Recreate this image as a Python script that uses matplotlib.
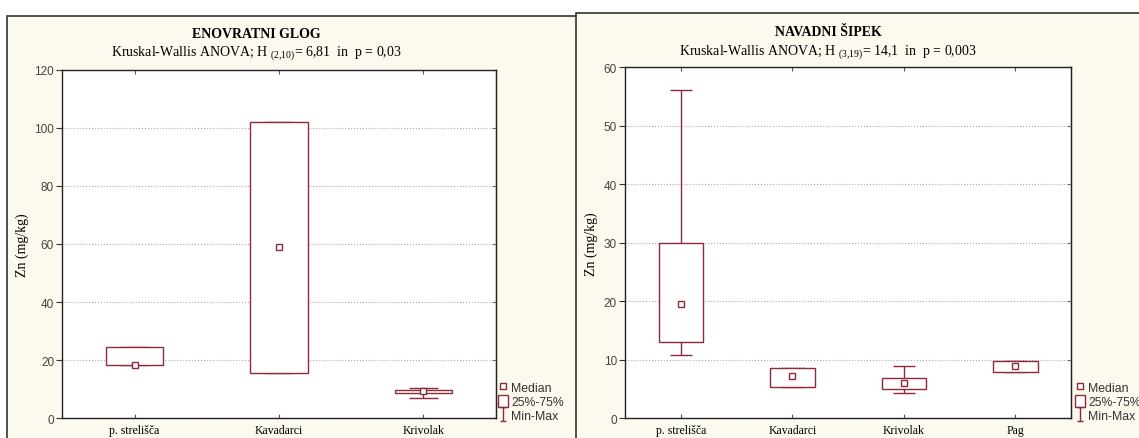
import numpy as np
import matplotlib
matplotlib.use('Agg')
import matplotlib.pyplot as plt
from matplotlib.patches import Rectangle, Patch
from matplotlib.lines import Line2D
from matplotlib.path import Path

# Colours.
RED = '#8c2a3a'
CREAM = '#fcf9ee'
FRAME = '#333333'

plt.rcParams['mathtext.fontset'] = 'custom'
plt.rcParams['mathtext.rm'] = 'Liberation Serif'
plt.rcParams['mathtext.it'] = 'Liberation Serif:italic'
plt.rcParams['mathtext.bf'] = 'Liberation Serif:bold'

# Left panel: ENOVRATNI GLOG
glog_groups = ['p. strelišča', 'Kavadarci', 'Krivolak']
glog_median = [18.5, 59.0, 9.3]
glog_q1 = [18.4, 15.6, 8.7]
glog_q3 = [24.4, 102.0, 9.8]
glog_min = [18.4, 15.6, 7.0]
glog_max = [24.4, 102.0, 10.6]

# Right panel: NAVADNI ŠIPEK
sipek_groups = ['p. strelišča', 'Kavadarci', 'Krivolak', 'Pag']
sipek_median = [19.6, 7.2, 6.0, 8.9]
sipek_q1 = [13.0, 5.3, 5.0, 8.0]
sipek_q3 = [30.0, 8.65, 6.9, 9.8]
sipek_min = [10.9, 5.3, 4.4, 8.0]
sipek_max = [56.1, 8.65, 8.9, 9.8]

W, H = 1139, 439
fig = plt.figure(figsize=(W / 100, H / 100), dpi=100)
fig.patch.set_facecolor('white')


def px_box(x0, y0, x1, y1):
    """Pixel rectangle (top-left origin) -> figure fraction [l, b, w, h]."""
    return [x0 / W, (H - y1) / H, (x1 - x0) / W, (y1 - y0) / H]


# panel frames (the left one sits partly under the right one)
for x0, y0 in [(7.3, 16.7), (576, 14)]:
    fig.patches.append(Rectangle((x0 / W, -0.1), 1.2, (H - y0) / H + 0.1,
                                 transform=fig.transFigure, facecolor=CREAM,
                                 edgecolor=FRAME, linewidth=1.2, zorder=-5))


def boxplot_panel(rect, groups, med, q1, q3, lo, hi, ymax, step):
    ax = fig.add_axes(rect)
    ax.set_zorder(2)
    x = np.arange(1, len(groups) + 1)
    q1 = np.array(q1)
    q3 = np.array(q3)
    ax.bar(x, q3 - q1, bottom=q1, width=0.4, facecolor='white',
           edgecolor=RED, linewidth=1.0, zorder=3)
    ax.vlines(x, q3, hi, color=RED, linewidth=1.0, zorder=2)
    ax.vlines(x, lo, q1, color=RED, linewidth=1.0, zorder=2)
    ax.hlines(hi, x - 0.1, x + 0.1, color=RED, linewidth=1.0, zorder=2)
    ax.hlines(lo, x - 0.1, x + 0.1, color=RED, linewidth=1.0, zorder=2)
    ax.plot(x, med, 's', ms=4.5, mfc='white', mec=RED, mew=1.0, zorder=4)

    ax.set_xlim(0.5, len(groups) + 0.5)
    ax.set_ylim(0, ymax)
    ax.set_xticks(x)
    ax.set_xticklabels(groups, family='Liberation Serif', fontsize=8.5)
    yt = np.arange(0, ymax + 1, step)
    ax.set_yticks(yt)
    ax.set_yticklabels([str(int(v)) for v in yt], family='Liberation Sans',
                       fontsize=8.5, color='#444444')
    ax.tick_params(axis='y', direction='out', length=4, pad=2,
                   color='#333333')
    ax.tick_params(axis='x', direction='in', length=3, top=True, pad=4,
                   color='#555555')
    # short inward ticks on the right side
    sec = ax.secondary_yaxis('right')
    sec.set_yticks(yt)
    sec.tick_params(direction='in', length=3, labelright=False,
                    color='#555555')
    sec.spines['right'].set_color('#222222')
    ax.grid(axis='y', linestyle=':', color='#aaaaaa', linewidth=0.8, zorder=0)
    ax.set_axisbelow(True)
    for s in ax.spines.values():
        s.set_color('#222222')
        s.set_linewidth(1.0)
    ax.set_ylabel('Zn (mg/kg)', family='Liberation Serif', fontsize=10,
                  labelpad=4)
    return ax


ax1 = boxplot_panel(px_box(62.4, 70.7, 495.6, 419.3), glog_groups, glog_median,
                    glog_q1, glog_q3, glog_min, glog_max, 120, 20)
ax2 = boxplot_panel(px_box(625.2, 68.3, 1071.0, 419.3), sipek_groups,
                    sipek_median, sipek_q1, sipek_q3, sipek_min, sipek_max,
                    60, 10)

# titles
fig.text(256 / W, 1 - 34 / H, 'ENOVRATNI GLOG', ha='center', va='center',
         family='Liberation Serif', fontweight='bold', fontsize=10)
fig.text(256 / W, 1 - 53 / H,
         r'Kruskal-Wallis ANOVA; H $_{(2{,}10)}$= 6,81  in  p = 0,03',
         ha='center', va='center', family='Liberation Serif', fontsize=10)
fig.text(828 / W, 1 - 33 / H, 'NAVADNI ŠIPEK', ha='center', va='center',
         family='Liberation Serif', fontweight='bold', fontsize=10)
fig.text(828 / W, 1 - 52 / H,
         r'Kruskal-Wallis ANOVA; H $_{(3{,}19)}$= 14,1  in  p = 0,003',
         ha='center', va='center', family='Liberation Serif', fontsize=10)

# legend with an I-beam marker for Min-Max
ibeam = Path([(-0.5, 1), (0.5, 1), (0, 1), (0, -1), (-0.5, -1), (0.5, -1)],
             [Path.MOVETO, Path.LINETO, Path.MOVETO, Path.LINETO,
              Path.MOVETO, Path.LINETO])
handles = [Line2D([], [], marker='s', ls='none', ms=4, mfc='white', mec=RED),
           Patch(facecolor='white', edgecolor=RED, linewidth=1.0),
           Line2D([], [], marker=ibeam, ls='none', ms=10, mec=RED, mew=1.0)]
labels = ['Median', '25%-75%', 'Min-Max']
for x0 in [498, 1075]:
    leg = fig.legend(handles, labels, loc='lower left',
                     bbox_to_anchor=(x0 / W, 16 / H), frameon=False,
                     prop={'family': 'Liberation Sans', 'size': 8.8},
                     handlelength=0.8, handleheight=1.2, handletextpad=0.3,
                     labelspacing=0.05, borderpad=0, borderaxespad=0)
    for t in leg.get_texts():
        t.set_color('#333333')

fig.savefig('out.png', dpi=100, facecolor=fig.get_facecolor())
